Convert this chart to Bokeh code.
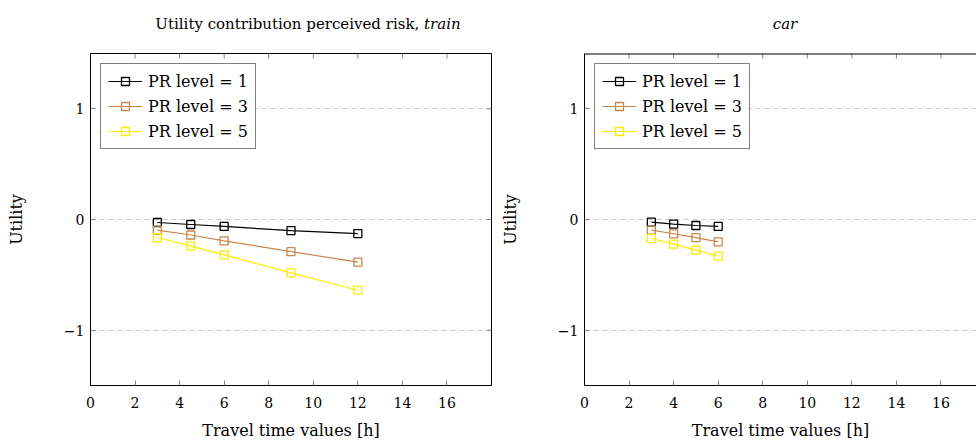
from bokeh.plotting import figure
from bokeh.layouts import row, column
from bokeh.models import Range1d, FixedTicker, Legend, LegendItem, Div
from bokeh.embed import file_html
from bokeh.resources import INLINE

# ---- data ----
train_time = [3, 4.5, 6, 9, 12]
train_pr1 = [-0.027, -0.045, -0.063, -0.10, -0.127]
train_pr3 = [-0.096, -0.14, -0.193, -0.29, -0.385]
train_pr5 = [-0.163, -0.241, -0.319, -0.482, -0.639]

car_time = [3, 4, 5, 6]
car_pr1 = [-0.024, -0.042, -0.054, -0.063]
car_pr3 = [-0.096, -0.129, -0.163, -0.202]
car_pr5 = [-0.172, -0.223, -0.277, -0.331]

series_labels = ["PR level = 1", "PR level = 3", "PR level = 5"]
x_ticks = [0, 2, 4, 6, 8, 10, 12, 14, 16]
y_ticks = [-1, 0, 1]
y_tick_labels = {-1: "\u22121", 0: "0", 1: "1"}

colors = ["#000000", "#c8874c", "#ffea00"]
FONT = "DejaVu Serif"
YMIN, YMAX = -1.5, 1.5
TICK = 0.045  # inner tick length in data units (y)
TITLE_H = 40


def style_axis(ax):
    ax.major_tick_in = 5
    ax.major_tick_out = 0
    ax.minor_tick_line_color = None
    ax.major_tick_line_color = "#808080"
    ax.axis_line_color = "#000000"
    ax.major_label_text_font = FONT
    ax.major_label_text_font_size = "14px"
    ax.major_label_text_color = "#000000"
    ax.axis_label_text_font = FONT
    ax.axis_label_text_font_size = "16px"
    ax.axis_label_text_font_style = "normal"
    ax.axis_label_text_color = "#000000"


def make_plot(times, ys, width, xmax, right_border, closed):
    p = figure(width=width, height=442 - TITLE_H, output_backend="svg",
               toolbar_location=None,
               x_range=Range1d(0, xmax), y_range=Range1d(YMIN, YMAX),
               min_border_left=90, min_border_right=right_border,
               min_border_top=53 - TITLE_H, min_border_bottom=10,
               x_axis_label="Travel time values [h]", y_axis_label="Utility")
    p.xgrid.visible = False
    p.ygrid.ticker = FixedTicker(ticks=y_ticks)
    p.ygrid.grid_line_color = "#c8c8c8"
    p.ygrid.grid_line_dash = "5 4"
    p.outline_line_color = "#000000" if closed else None
    p.background_fill_color = "white"
    p.border_fill_color = "white"

    xa = p.xaxis[0]
    ya = p.yaxis[0]
    style_axis(xa)
    style_axis(ya)
    xa.ticker = FixedTicker(ticks=x_ticks)
    ya.ticker = FixedTicker(ticks=y_ticks)
    ya.major_label_overrides = y_tick_labels
    xa.major_label_standoff = 11
    xa.axis_label_standoff = 10
    ya.major_label_standoff = 6
    ya.axis_label_standoff = 35

    # inner ticks on the top (and right) edges of the frame
    n = len(x_ticks)
    p.segment(x0=x_ticks, y0=[YMAX] * n, x1=x_ticks, y1=[YMAX - TICK] * n,
              line_color="#808080", line_width=1)
    if closed:
        m = len(y_ticks)
        dx = 5 / 22.28
        p.segment(x0=[xmax] * m, y0=y_ticks, x1=[xmax - dx] * m, y1=y_ticks,
                  line_color="#808080", line_width=1)
    else:
        # top frame line (right edge is cut off by the page in the reference)
        p.segment(x0=[0], y0=[YMAX], x1=[xmax], y1=[YMAX], line_color="#000000",
                  line_width=2)

    items = []
    for yv, c, lab in zip(ys, colors, series_labels):
        ln = p.line(times, yv, line_color=c, line_width=1.2)
        mk = p.scatter(times, yv, marker="square", size=8, fill_color=None,
                       line_color=c, line_width=1.3)
        items.append(LegendItem(label=lab, renderers=[ln, mk]))
    leg = Legend(items=items, location="top_left")
    leg.margin = 10
    leg.padding = 7
    leg.spacing = 5
    leg.label_height = 20
    leg.glyph_width = 34
    leg.glyph_height = 20
    leg.label_standoff = 6
    leg.label_text_font = FONT
    leg.label_text_font_size = "16px"
    leg.label_text_color = "#000000"
    leg.border_line_color = "#000000"
    leg.border_line_width = 1
    leg.background_fill_color = "white"
    leg.background_fill_alpha = 1
    p.add_layout(leg, "center")
    return p


def title_div(html, width, pad_left):
    inner = ('<div style="width:%dpx;box-sizing:border-box;padding-left:%dpx;'
             'padding-top:15px;text-align:center;white-space:nowrap;'
             'font-family:\'DejaVu Serif\';font-size:15px;line-height:18px;'
             'color:#000000;margin:0;">%s</div>') % (width, pad_left, html)
    return Div(text=inner, width=width, height=TITLE_H, margin=0)


W1, W2 = 494, 482
p1 = make_plot(train_time, [train_pr1, train_pr3, train_pr5], W1, 18, 3, True)
p2 = make_plot(car_time, [car_pr1, car_pr3, car_pr5], W2, 392 / 22.28, 0, False)

d1 = title_div("Utility contribution perceived risk, <i>train</i>", W1, 122)
d2 = title_div("<i>car</i>", W2, 100)

layout = row(column(d1, p1), column(d2, p2))
open("out.html", "w").write(file_html(layout, INLINE))
